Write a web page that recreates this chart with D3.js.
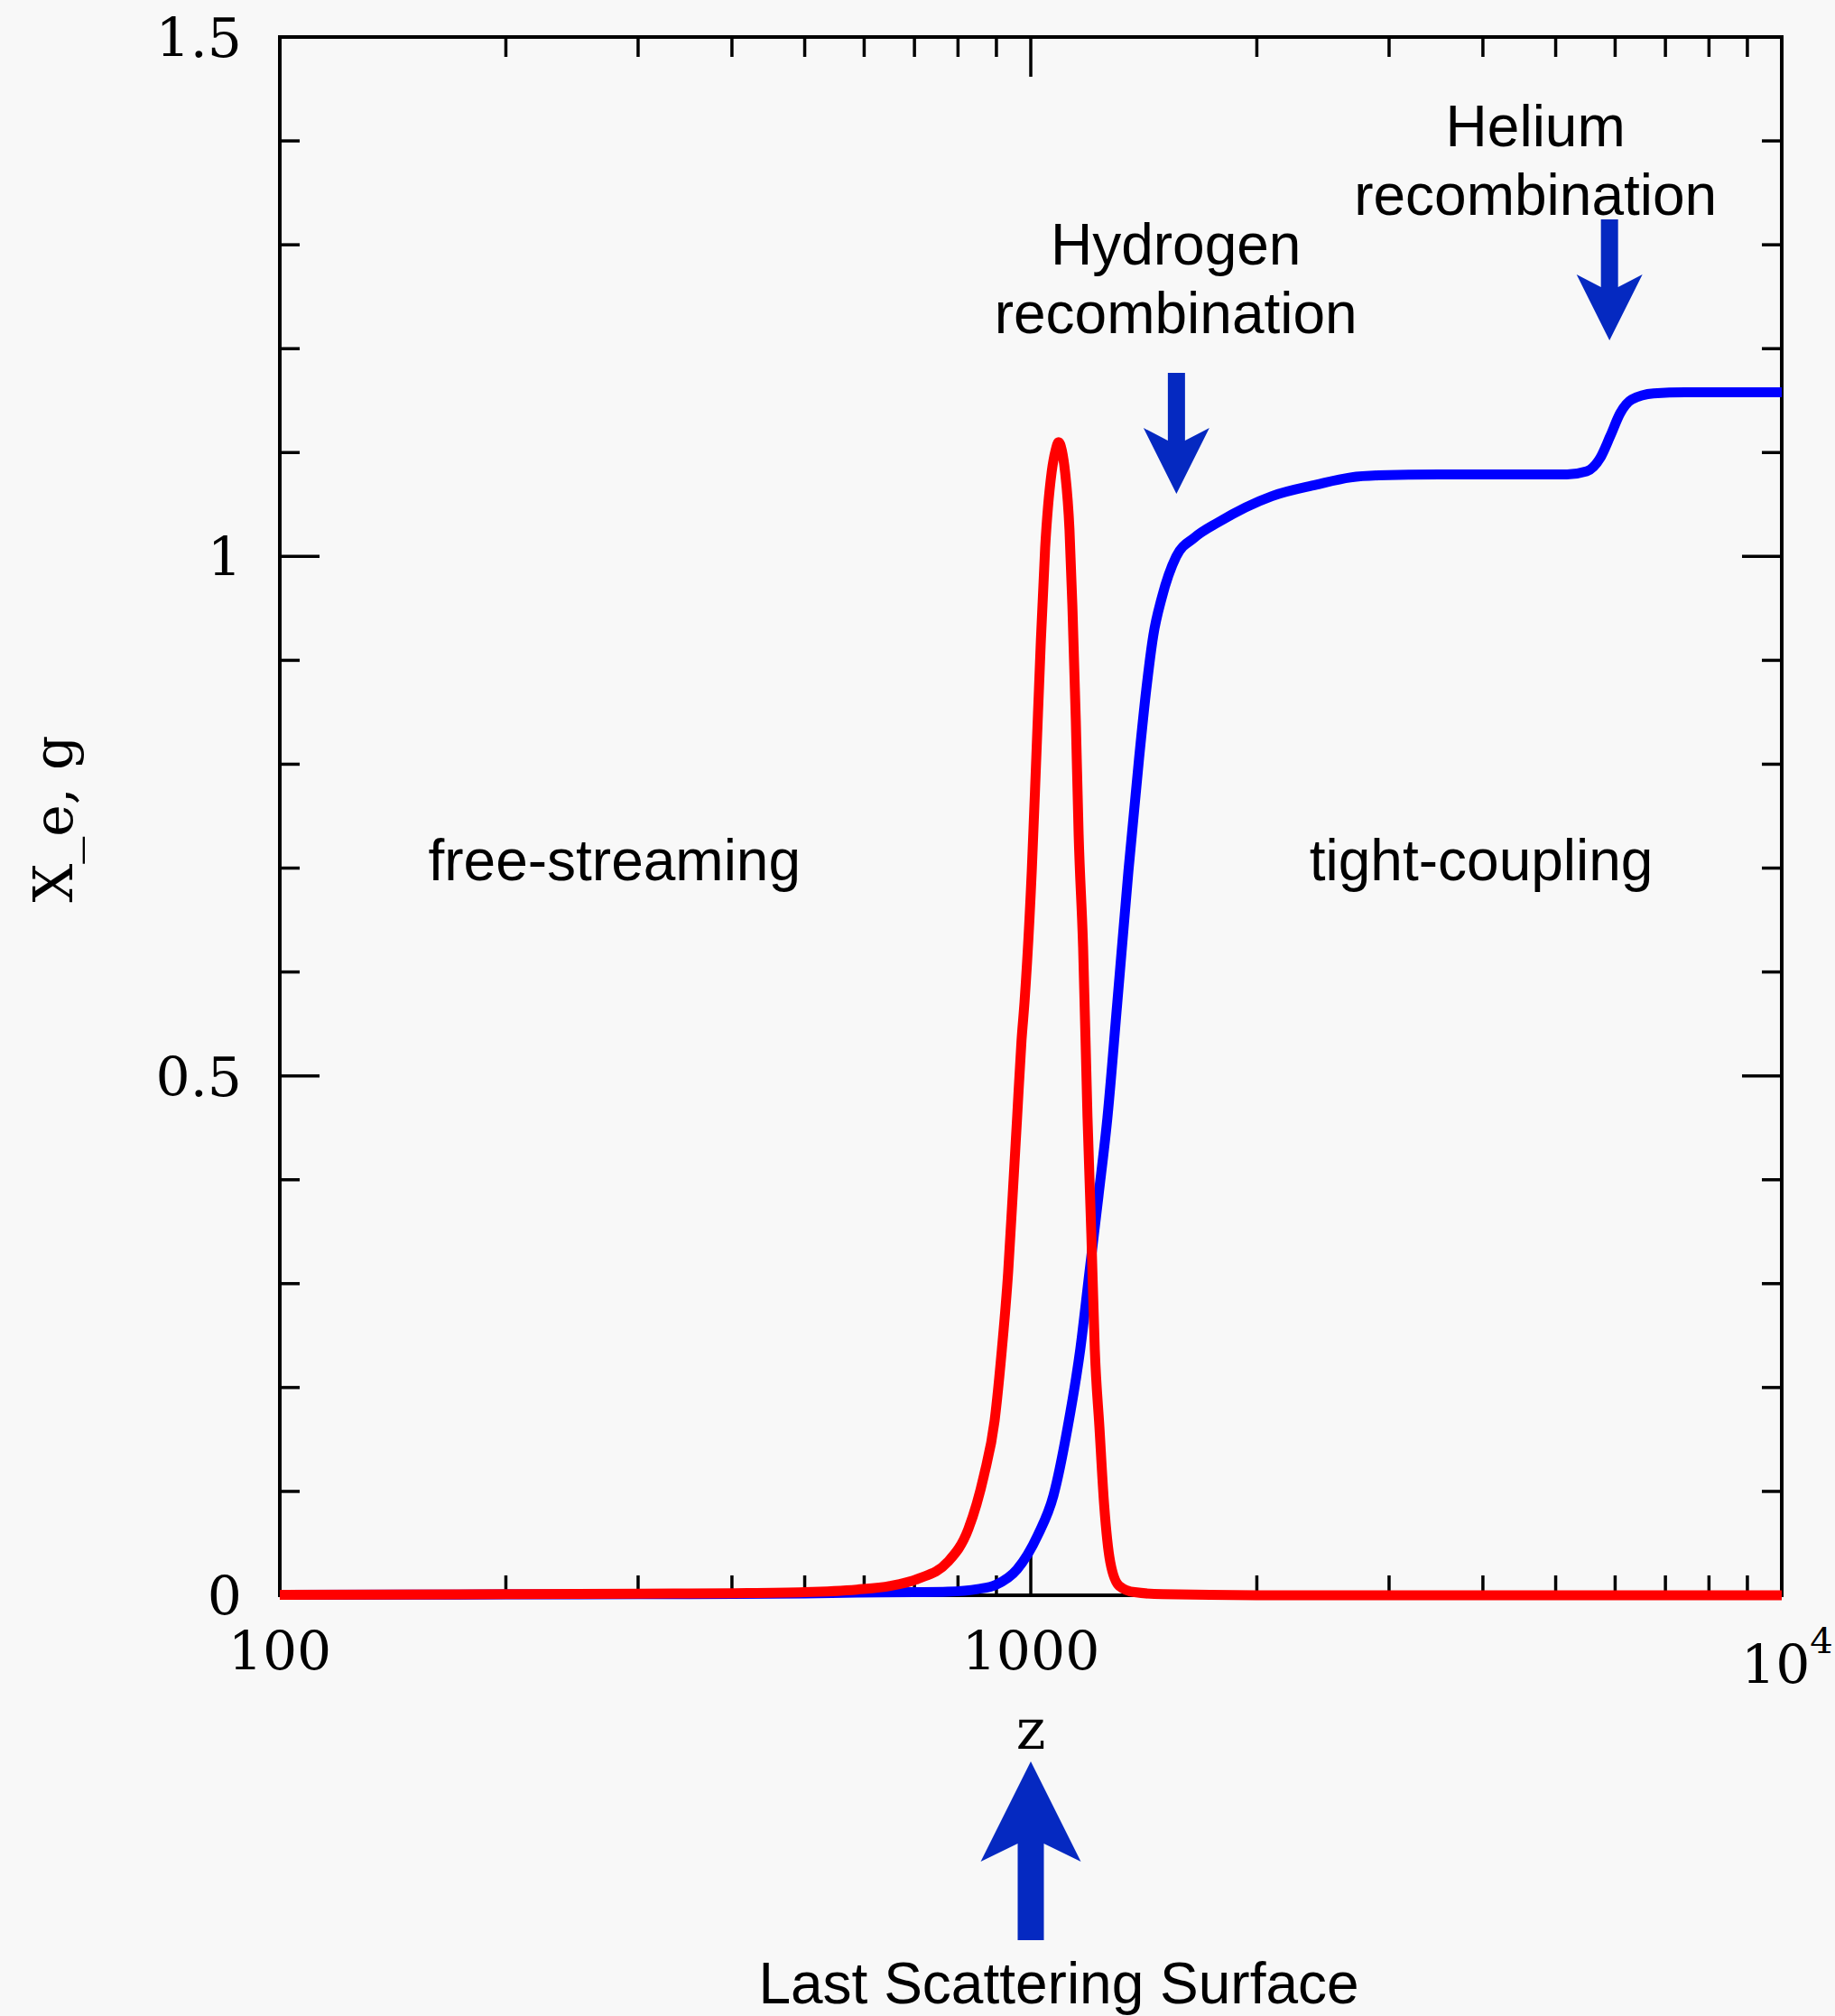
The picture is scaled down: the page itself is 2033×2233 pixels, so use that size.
<!DOCTYPE html>
<html>
<head>
<meta charset="utf-8">
<script src="https://cdn.jsdelivr.net/npm/d3@7"></script>
<style>
  html, body { margin: 0; padding: 0; background: #f8f8f8; }
  svg { display: block; }
</style>
</head>
<body>
<svg id="chart" width="2033" height="2233"></svg>
<script>
// ---- data ----
const zBlue = [100, 150, 200, 300, 400, 500, 587, 700, 775, 850, 898, 959, 1022, 1072, 1120, 1164, 1197, 1231, 1265, 1304, 1349, 1394, 1425, 1456, 1494, 1562, 1651, 1778, 2094, 2400, 2665, 2902, 3500, 4500, 5176, 5500, 5734, 5912, 6095, 6313, 6751, 7436, 8500, 10000];
const xeValues = [0.0005, 0.0006, 0.0008, 0.001, 0.0013, 0.0018, 0.0025, 0.003, 0.0035, 0.006, 0.010, 0.025, 0.058, 0.096, 0.162, 0.237, 0.311, 0.385, 0.46, 0.571, 0.697, 0.806, 0.872, 0.924, 0.960, 1.000, 1.018, 1.033, 1.058, 1.069, 1.076, 1.078, 1.079, 1.079, 1.079, 1.082, 1.095, 1.116, 1.138, 1.151, 1.157, 1.158, 1.158, 1.158];

const zRed = [100, 200, 300, 400, 500, 587, 650, 708, 775, 826, 866, 895, 915, 933, 946, 959, 972, 981, 1003, 1017, 1031, 1045, 1066, 1079, 1089, 1100, 1111, 1126, 1136, 1148, 1158, 1174, 1190, 1204, 1217, 1234, 1252, 1276, 1312, 1375, 1500, 2000, 10000];
const gValues = [0.0005, 0.001, 0.0015, 0.002, 0.003, 0.0055, 0.009, 0.016, 0.032, 0.064, 0.115, 0.168, 0.236, 0.311, 0.385, 0.46, 0.534, 0.571, 0.697, 0.806, 0.916, 1.008, 1.081, 1.102, 1.11, 1.102, 1.081, 1.026, 0.953, 0.843, 0.733, 0.624, 0.46, 0.348, 0.236, 0.163, 0.088, 0.032, 0.009, 0.003, 0.001, 0, 0];

const xTickLabels = [{v: 100, t: "100"}, {v: 1000, t: "1000"}];
const yTickLabels = [{v: 0, t: "0"}, {v: 0.5, t: "0.5"}, {v: 1, t: "1"}, {v: 1.5, t: "1.5"}];

const regionLabels = [{z: 279, v: 0.65, t: "free-streaming"}, {z: 3980, v: 0.65, t: "tight-coupling"}];
const eventLabels = [
  {z: 1560, lines: ["Hydrogen", "recombination"], arrowZ: 1563},
  {z: 4700, lines: ["Helium", "recombination"], arrowZ: 5897}
];
const lssZ = 1000;

// ---- layout ----
const X0 = 310, X1 = 1974, Y0 = 41, Y1 = 1767;
const x = d3.scaleLog().domain([100, 10000]).range([X0, X1]);
const y = d3.scaleLinear().domain([0, 1.5]).range([Y1, Y0]);

const svg = d3.select("#chart");
svg.append("rect").attr("width", 2033).attr("height", 2233).attr("fill", "#f8f8f8");

const serif = "'DejaVu Serif', 'Liberation Serif', serif";
const sans = "'Liberation Sans', Arial, Helvetica, sans-serif";
const arrowColor = "#0529c1";

// frame
svg.append("rect").attr("x", X0).attr("y", Y0).attr("width", X1 - X0).attr("height", Y1 - Y0)
  .attr("fill", "none").attr("stroke", "#000").attr("stroke-width", 4);

// x ticks (log minor/major) on top and bottom
const tickG = svg.append("g").attr("stroke", "#000").attr("stroke-width", 3.5);
x.ticks().forEach(t => {
  const major = Math.abs(Math.log10(t) - Math.round(Math.log10(t))) < 1e-9;
  const len = major ? 44 : 22;
  const px = x(t);
  tickG.append("line").attr("x1", px).attr("x2", px).attr("y1", Y1).attr("y2", Y1 - len);
  tickG.append("line").attr("x1", px).attr("x2", px).attr("y1", Y0).attr("y2", Y0 + len);
});
// y ticks on left and right
y.ticks(15).forEach(t => {
  const major = Math.abs(t * 2 - Math.round(t * 2)) < 1e-9;
  const len = major ? 44 : 22;
  const py = y(t);
  tickG.append("line").attr("x1", X0).attr("x2", X0 + len).attr("y1", py).attr("y2", py);
  tickG.append("line").attr("x1", X1).attr("x2", X1 - len).attr("y1", py).attr("y2", py);
});

// tick labels
svg.selectAll("text.ylab").data(yTickLabels).enter().append("text")
  .attr("class", "ylab").attr("x", 268).attr("y", d => y(d.v) + 22)
  .attr("text-anchor", "end").attr("font-family", serif).attr("font-size", 60).text(d => d.t);

svg.selectAll("text.xlab").data(xTickLabels).enter().append("text")
  .attr("class", "xlab").attr("x", d => x(d.v)).attr("y", 1850)
  .attr("text-anchor", "middle").attr("font-family", serif).attr("font-size", 60).text(d => d.t);

const t4 = svg.append("text").attr("x", x(10000) - 45).attr("y", 1865)
  .attr("font-family", serif).attr("font-size", 60);
t4.append("tspan").text("10");
t4.append("tspan").attr("dy", -34).attr("font-size", 40).text("4");

// axis titles
svg.append("text").attr("x", x(1000)).attr("y", 1937).attr("text-anchor", "middle")
  .attr("font-family", serif).attr("font-size", 62).text("z");
svg.append("text").attr("transform", "translate(80,907) rotate(-90)").attr("text-anchor", "middle")
  .attr("font-family", serif).attr("font-size", 60).text("X_e,  g");

// curves
const line = d3.line().x(d => x(d[0])).y(d => y(d[1])).curve(d3.curveMonotoneX);
const blueData = zBlue.map((z, i) => [z, xeValues[i]]);
const redData = zRed.map((z, i) => [z, gValues[i]]);

svg.append("path").datum(blueData).attr("d", line).attr("fill", "none")
  .attr("stroke", "#0000ff").attr("stroke-width", 11).attr("stroke-linejoin", "round");
svg.append("path").datum(redData).attr("d", line).attr("fill", "none")
  .attr("stroke", "#ff0000").attr("stroke-width", 11).attr("stroke-linejoin", "round");

// region labels
svg.selectAll("text.region").data(regionLabels).enter().append("text")
  .attr("class", "region").attr("x", d => x(d.z)).attr("y", 975)
  .attr("text-anchor", "middle").attr("font-family", sans).attr("font-size", 64).text(d => d.t);

// arrows
function downArrow(cx, top, shaftW, headW, notchY, cornerY, tipY) {
  const p = d3.path();
  p.moveTo(cx - shaftW / 2, top);
  p.lineTo(cx + shaftW / 2, top);
  p.lineTo(cx + shaftW / 2, notchY);
  p.lineTo(cx + headW / 2, cornerY);
  p.lineTo(cx, tipY);
  p.lineTo(cx - headW / 2, cornerY);
  p.lineTo(cx - shaftW / 2, notchY);
  p.closePath();
  return p.toString();
}

// event labels + down arrows
const evY = [{base: 293, top: 413}, {base: 162, top: 243}];
eventLabels.forEach((e, i) => {
  const cx = x(e.z);
  e.lines.forEach((ln, j) => {
    svg.append("text").attr("x", cx).attr("y", evY[i].base + j * 76).attr("text-anchor", "middle")
      .attr("font-family", sans).attr("font-size", 64).text(ln);
  });
  const ax = x(e.arrowZ);
  const top = evY[i].top;
  svg.append("path").attr("d", downArrow(ax, top, 19, 73, top + 75, top + 61, top + 134))
    .attr("fill", arrowColor);
});

// Last scattering surface arrow (up)
{
  const ax = x(lssZ);
  const p = d3.path();
  const tip = 1951, corner = 2062, notch = 2042, bottom = 2149, sw = 29, hw = 111;
  p.moveTo(ax, tip);
  p.lineTo(ax + hw / 2, corner);
  p.lineTo(ax + sw / 2, notch);
  p.lineTo(ax + sw / 2, bottom);
  p.lineTo(ax - sw / 2, bottom);
  p.lineTo(ax - sw / 2, notch);
  p.lineTo(ax - hw / 2, corner);
  p.closePath();
  svg.append("path").attr("d", p.toString()).attr("fill", arrowColor);
  svg.append("text").attr("x", ax + 31).attr("y", 2219).attr("text-anchor", "middle")
    .attr("font-family", sans).attr("font-size", 64).text("Last Scattering Surface");
}
</script>
</body>
</html>
